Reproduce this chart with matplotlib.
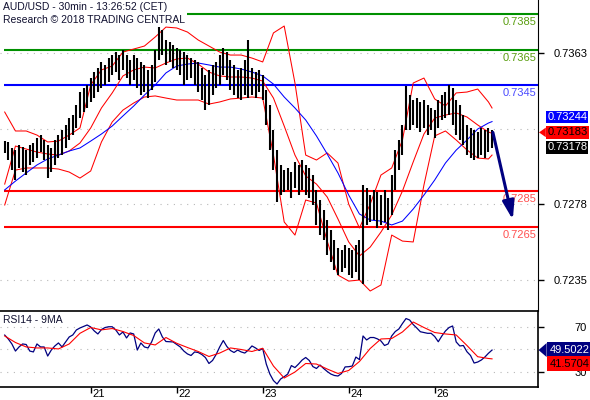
import matplotlib.pyplot as plt
import numpy as np
from matplotlib.patches import Polygon

plt.rcParams['font.family'] = ['Liberation Sans', 'DejaVu Sans']

# hourly bars (highs / lows), first bar at day 20 00:00
highs = [0.73134, 0.73129, 0.73095, 0.73083, 0.73112, 0.73100, 0.73083, 0.73112, 0.73123, 0.73151,
         0.73168, 0.73140, 0.73112, 0.73095, 0.73140, 0.73168, 0.73196, 0.73225, 0.73264, 0.73281,
         0.73338, 0.73411, 0.73434, 0.73451, 0.73490, 0.73524, 0.73547, 0.73581, 0.73564, 0.73603,
         0.73620, 0.73637, 0.73620, 0.73649, 0.73620, 0.73592, 0.73620, 0.73603, 0.73581, 0.73564,
         0.73535, 0.73564, 0.73649, 0.73778, 0.73762, 0.73705, 0.73694, 0.73677, 0.73660, 0.73649,
         0.73637, 0.73620, 0.73603, 0.73592, 0.73581, 0.73547, 0.73507, 0.73535, 0.73564, 0.73581,
         0.73620, 0.73660, 0.73637, 0.73592, 0.73564, 0.73535, 0.73547, 0.73592, 0.73705, 0.73547,
         0.73524, 0.73535, 0.73507, 0.73422, 0.73338, 0.73196, 0.73083, 0.72999, 0.72970, 0.72982,
         0.72959, 0.73016, 0.72999, 0.73027, 0.72999, 0.72982, 0.72942, 0.72857, 0.72801, 0.72744,
         0.72688, 0.72631, 0.72575, 0.72530, 0.72518, 0.72547, 0.72530, 0.72518, 0.72547, 0.72575,
         0.72886, 0.72869, 0.72829, 0.72857, 0.72846, 0.72829, 0.72857, 0.72812, 0.72942, 0.73083,
         0.73140, 0.73225, 0.73445, 0.73394, 0.73366, 0.73377, 0.73355, 0.73366, 0.73338, 0.73321,
         0.73309, 0.73366, 0.73394, 0.73411, 0.73451, 0.73434, 0.73366, 0.73338, 0.73281, 0.73225,
         0.73208, 0.73196, 0.73185, 0.73208, 0.73196, 0.73208, 0.73196]
lows = [0.73067, 0.73027, 0.72970, 0.72914, 0.72982, 0.72959, 0.72942, 0.72999, 0.73016, 0.73038,
        0.73072, 0.73027, 0.72925, 0.72959, 0.72999, 0.73038, 0.73055, 0.73095, 0.73140, 0.73168,
        0.73208, 0.73264, 0.73298, 0.73321, 0.73355, 0.73377, 0.73411, 0.73434, 0.73451, 0.73468,
        0.73507, 0.73524, 0.73479, 0.73535, 0.73490, 0.73451, 0.73479, 0.73434, 0.73394, 0.73411,
        0.73377, 0.73422, 0.73468, 0.73592, 0.73620, 0.73564, 0.73581, 0.73547, 0.73535, 0.73507,
        0.73451, 0.73479, 0.73490, 0.73451, 0.73411, 0.73366, 0.73309, 0.73338, 0.73394, 0.73434,
        0.73451, 0.73507, 0.73479, 0.73422, 0.73394, 0.73377, 0.73366, 0.73394, 0.73377, 0.73394,
        0.73377, 0.73411, 0.73366, 0.73225, 0.73083, 0.72970, 0.72790, 0.72829, 0.72846, 0.72857,
        0.72812, 0.72869, 0.72829, 0.72857, 0.72829, 0.72812, 0.72773, 0.72660, 0.72603, 0.72575,
        0.72490, 0.72451, 0.72405, 0.72377, 0.72394, 0.72417, 0.72377, 0.72360, 0.72394, 0.72349,
        0.72326, 0.72660, 0.72677, 0.72688, 0.72643, 0.72660, 0.72677, 0.72631, 0.72716, 0.72857,
        0.72970, 0.73055, 0.73196, 0.73196, 0.73225, 0.73208, 0.73185, 0.73208, 0.73168, 0.73196,
        0.73151, 0.73208, 0.73253, 0.73264, 0.73281, 0.73225, 0.73168, 0.73140, 0.73112, 0.73055,
        0.73038, 0.73027, 0.73038, 0.73055, 0.73038, 0.73072, 0.73095]
last_close = 0.73183

# indicators, read every 3 bars
ind_idx = list(range(0, 136, 3)) + [136]
bb_upper = [0.73298, 0.73191, 0.73191, 0.73168, 0.73129, 0.73134, 0.73168, 0.73208, 0.73451, 0.73536,
            0.73558, 0.73637, 0.73654, 0.73671, 0.73722, 0.73778, 0.73773, 0.73750, 0.73705, 0.73671,
            0.73637, 0.73620, 0.73620, 0.73603, 0.73581, 0.73745, 0.73784, 0.73462, 0.73055, 0.73027,
            0.73067, 0.73010, 0.72778, 0.72643, 0.72778, 0.72942, 0.72982, 0.73140, 0.73462, 0.73490,
            0.73372, 0.73332, 0.73406, 0.73411, 0.73428, 0.73355, 0.73321]
bb_mid = [0.72891, 0.73106, 0.73089, 0.73072, 0.73061, 0.73055, 0.73078, 0.73123, 0.73208, 0.73321,
          0.73406, 0.73502, 0.73536, 0.73552, 0.73547, 0.73575, 0.73598, 0.73603, 0.73569, 0.73524,
          0.73502, 0.73496, 0.73496, 0.73490, 0.73473, 0.73377, 0.73219, 0.73055, 0.72937, 0.72891,
          0.72818, 0.72694, 0.72564, 0.72485, 0.72535, 0.72620, 0.72716, 0.72852, 0.73016, 0.73174,
          0.73264, 0.73281, 0.73293, 0.73270, 0.73225, 0.73185, 0.73178]
bb_lower = [0.72773, 0.72970, 0.72982, 0.72982, 0.72982, 0.72976, 0.72959, 0.72925, 0.72965, 0.73129,
            0.73242, 0.73309, 0.73349, 0.73383, 0.73389, 0.73377, 0.73366, 0.73366, 0.73366, 0.73343,
            0.73355, 0.73372, 0.73377, 0.73383, 0.73377, 0.73055, 0.72677, 0.72603, 0.72801, 0.72784,
            0.72569, 0.72377, 0.72343, 0.72349, 0.72287, 0.72321, 0.72603, 0.72569, 0.72564, 0.72886,
            0.73163, 0.73191, 0.73140, 0.73084, 0.73038, 0.73033, 0.73055]
ma_blue = [0.72858, 0.72908, 0.72954, 0.72999, 0.73033, 0.73055, 0.73078, 0.73095, 0.73134, 0.73174,
           0.73219, 0.73276, 0.73332, 0.73394, 0.73451, 0.73519, 0.73558, 0.73569, 0.73575, 0.73564,
           0.73552, 0.73552, 0.73541, 0.73524, 0.73502, 0.73456, 0.73383, 0.73321, 0.73253, 0.73163,
           0.73061, 0.72954, 0.72829, 0.72722, 0.72688, 0.72682, 0.72660, 0.72682, 0.72750, 0.72829,
           0.72914, 0.73010, 0.73083, 0.73140, 0.73202, 0.73236, 0.73244]

rsi = [63, 59.5, 55, 48.6, 52.3, 55, 54.5, 48.6, 47.8, 55,
       52.3, 52.3, 44.1, 49.5, 53.2, 55.9, 52.3, 56.8, 61.3, 63.1,
       67.6, 69.4, 70.7, 72.1, 70.3, 66.7, 64, 68, 69.8, 70.5,
       70.5, 67.6, 63.1, 65.8, 60.4, 64.9, 64, 49.5, 55.9, 52.3,
       51.4, 56.8, 64.9, 68.5, 61.3, 57.2, 57, 56.8, 54.5, 52.3,
       48.6, 46, 44.6, 47.8, 47.3, 45.5, 42.8, 37.4, 40.1, 45.5,
       52.3, 58.1, 52.7, 49.1, 47.3, 49.5, 47.8, 46.8, 49.5, 53.2,
       51.4, 49.1, 50.9, 36.9, 27.9, 22, 18.9, 23.4, 25.5, 27.9,
       35.5, 33.7, 36.9, 40.5, 42.8, 40.1, 34.6, 32.9, 36, 32.9,
       30.2, 27.9, 26.6, 26.1, 28.4, 34.3, 34.5, 35.1, 43.2, 40.9,
       62.2, 58.6, 60.8, 60.8, 59.6, 57.7, 53.6, 55, 62.2, 66.2,
       68.5, 73.4, 77.9, 76.6, 72.5, 69.4, 66, 65.3, 64.6, 64.6,
       61.7, 57, 62.2, 66.7, 69.8, 71.2, 56.8, 53.2, 53.6, 48,
       44.6, 37.8, 38.7, 40.5, 43.2, 46.6, 49.5022]
rsi_ma = [62.2, 56.3, 52.3, 51.4, 51.4, 50.5, 55, 64.6, 69.8, 67.7,
          68.9, 66.2, 62.6, 55.9, 54.1, 60.8, 55.6, 51.8, 48.2, 43.7,
          46.8, 51.4, 50, 48.2, 51.1, 35.1, 24.3, 29.7, 37.4, 36.9,
          32.4, 28.4, 31.1, 39.2, 50.9, 59.5, 59.9, 65.8, 74.8, 69.8,
          65.3, 64, 63.1, 53.6, 43.5, 41.9, 41.5704]

# key levels
levels = [0.7385, 0.7365, 0.7345, 0.7285, 0.7265]
level_start = [1.12, -1.01, -1.01, -1.01, -1.01]   # in trading days
level_colors = ['#009000', '#009000', '#0000ff', '#ff0000', '#ff0000']
label_colors = ['#5a9e10', '#5a9e10', '#4a4aff', '#ff5050', '#ff5050']

day_labels = ['21', '22', '23', '24', '26']
price_ticks = [0.7363, 0.72778, 0.7235]
price_grid = [0.7363, 0.73205, 0.72778, 0.7235]
target = 0.7269
arrow_hours = 5.8

t = np.arange(len(highs)) / 24 - 1
ti = np.array(ind_idx) / 24 - 1
xmin, xmax = -1.0547, 5.2012

fig = plt.figure(figsize=(5.9, 4), dpi=100)
ax = fig.add_axes([0, 89 / 400, 538 / 590, 311 / 400])
ax2 = fig.add_axes([0, 13 / 400, 538 / 590, 76 / 400])

# price panel
for p in price_grid:
    ax.axhline(p, color='#b8b8b8', lw=0.8, ls=(0, (1, 5)), zorder=0)

ax.hlines(levels, level_start, xmax, colors=level_colors, lw=1.5, zorder=1)
for lv, c in zip(levels, label_colors):
    ax.annotate(f'{lv:.4f}', xy=(1, lv), xycoords=('axes fraction', 'data'),
                xytext=(-1, -2), textcoords='offset points', ha='right', va='top',
                color=c, fontsize=8)

ax.plot(ti, bb_upper, color='red', lw=0.75)
ax.plot(ti, bb_mid, color='red', lw=0.75)
ax.plot(ti, bb_lower, color='red', lw=0.75)
ax.plot(ti, ma_blue, color='blue', lw=0.75)
ax.vlines(t, lows, highs, color='black', lw=1.5, zorder=3)

ax.annotate('', xy=(t[-1] + arrow_hours / 24, target), xytext=(t[-1] + 0.01, last_close),
            arrowprops=dict(arrowstyle='-|>,head_length=1.1,head_width=0.35',
                            color='#000080', lw=2.2, shrinkA=0, shrinkB=0))

ax.set_xlim(xmin, xmax)
ax.set_ylim(0.72174, 0.73931)
ax.set_xticks([])
ax.yaxis.tick_right()
ax.set_yticks(price_ticks)
ax.set_yticklabels(['0.7363', '0.7278', '0.7235'])
ax.tick_params(axis='y', length=4, width=1, pad=7.5, labelsize=8)
for s in ['top', 'left', 'bottom']:
    ax.spines[s].set_visible(False)

ax.text(0.005, 0.995, 'AUD/USD - 30min - 13:26:52 (CET)', transform=ax.transAxes,
        ha='left', va='top', fontsize=7.5, color='#101030')
ax.text(0.005, 0.953, 'Research \u00a9 2018 TRADING CENTRAL', transform=ax.transAxes,
        ha='left', va='top', fontsize=7.5, color='#101030')

# value boxes on the price scale
bt = ax.get_yaxis_transform()
step = 0.00085
ax.text(1.017, last_close + step, f'{ma_blue[-1]:.5f}', transform=bt, va='center', ha='left',
        color='white', fontsize=8, clip_on=False,
        bbox=dict(boxstyle='square,pad=0.1', fc='#0000ff', ec='none'))
ax.text(1.017, last_close, f'{last_close:.5f}', transform=bt, va='center', ha='left',
        color='black', fontsize=8, clip_on=False,
        bbox=dict(boxstyle='square,pad=0.1', fc='#ff0000', ec='none'))
ax.text(1.017, last_close - step, f'{bb_mid[-1]:.5f}', transform=bt, va='center', ha='left',
        color='white', fontsize=8, clip_on=False,
        bbox=dict(boxstyle='square,pad=0.1', fc='black', ec='none'))
ax.add_patch(Polygon([[1.0019, last_close], [1.0145, last_close + 0.00027],
                      [1.0145, last_close - 0.00027]], closed=True, transform=bt,
                     fc='#ff0000', ec='none', clip_on=False))

# RSI panel
for g in [70, 50, 30]:
    ax2.axhline(g, color='#b8b8b8', lw=0.8, ls=(0, (1, 5)), zorder=0)
ax2.plot(t, rsi, color='#000080', lw=0.9)
ax2.plot(ti, rsi_ma, color='red', lw=0.8)
ax2.set_xlim(xmin, xmax)
ax2.set_ylim(16.2, 84.7)
ax2.yaxis.tick_right()
ax2.set_yticks([70, 30])
ax2.tick_params(axis='y', length=4, width=1, pad=22, labelsize=8)
ax2.set_xticks(range(len(day_labels)))
ax2.set_xticklabels([])
ax2.tick_params(axis='x', length=4, width=1, direction='out')
ax2.spines['left'].set_visible(False)
for s in ['top', 'bottom', 'right']:
    ax2.spines[s].set_linewidth(1.2)
for k, d in enumerate(day_labels):
    ax2.annotate(d, xy=(k, 0), xycoords=('data', 'axes fraction'), xytext=(1.5, -1.5),
                 textcoords='offset points', ha='left', va='top', fontsize=8)
ax2.text(0.005, 0.95, 'RSI14 - 9MA', transform=ax2.transAxes, ha='left', va='top',
         fontsize=7.5, color='#101030')

bt2 = ax2.get_yaxis_transform()
ax2.text(1.022, rsi[-1], f'{rsi[-1]:.4f}', transform=bt2, va='center', ha='left',
         color='white', fontsize=8, clip_on=False,
         bbox=dict(boxstyle='square,pad=0.25', fc='#000080', ec='none'))
ax2.text(1.022, rsi[-1] - 12.2, f'{rsi_ma[-1]:.4f}', transform=bt2, va='center', ha='left',
         color='black', fontsize=8, clip_on=False,
         bbox=dict(boxstyle='square,pad=0.25', fc='#ff0000', ec='none'))
ax2.add_patch(Polygon([[1.001, rsi[-1]], [1.016, rsi[-1] + 6.3], [1.016, rsi[-1] - 6.3]],
                      closed=True, transform=bt2, fc='#000080', ec='none', clip_on=False))

fig.savefig('out.png', dpi=100)
